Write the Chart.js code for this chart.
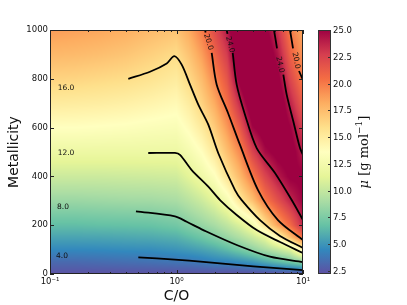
<!DOCTYPE html>
<html><head><meta charset="utf-8">
<script src="https://cdn.jsdelivr.net/npm/chart.js@4.4.0/dist/chart.umd.min.js"></script>
<style>html,body{margin:0;padding:0;background:#fff;}canvas{display:block}</style>
</head><body>
<canvas id="c" width="407" height="305"></canvas>
<script>
// ---------- DATA ----------
// grid of mean molecular weight mu (read from the colours), columns = log10(C/O), rows = metallicity
const gridLogCO = [-1.0,-0.8,-0.6,-0.4,-0.2,0.0,0.1,0.2,0.3,0.4,0.5,0.6,0.7,0.8,0.9,1.0];
const gridZ = [0,50,100,150,200,300,400,500,600,700,800,900,1000];
const muZ0    = [2.3,2.3,2.3,2.3,2.3,2.3,2.3,2.3,2.3,2.2,2.2,2.2,2.2,2.2,2.2,2.2];
const muZ50   = [3.3,3.3,3.4,3.5,3.6,3.75,3.8,4.0,4.3,4.4,4.7,5.1,5.8,6.5,7.2,8.1];
const muZ100  = [4.5,4.5,4.55,4.65,4.7,4.95,5.2,5.5,5.9,6.5,7.25,8.15,9.05,9.95,11.1,14.7];
const muZ150  = [5.55,5.55,5.6,5.7,5.8,6.05,6.5,7.0,7.65,8.4,9.2,10.2,11.4,14.1,17.4,20.5];
const muZ200  = [6.6,6.6,6.7,6.75,6.85,7.2,7.8,8.35,8.95,9.8,10.9,12.45,15.6,18.5,20.6,23.6];
const muZ300  = [8.5,8.5,8.6,8.7,8.75,9.0,9.6,10.3,11.3,12.7,15.3,17.2,20.0,21.8,23.6,25.0];
const muZ400  = [10.3,10.3,10.3,10.35,10.4,10.5,11.3,12.2,13.35,15.55,17.6,20.0,22.35,24.1,25.2,25.3];
const muZ500  = [12.0,12.0,12.0,12.0,12.0,12.0,12.7,13.65,15.25,17.35,19.4,22.4,24.6,25.5,25.8,23.9];
const muZ600  = [13.6,13.6,13.5,13.4,13.2,13.05,13.9,15.1,16.8,18.9,21.4,24.8,26.0,26.5,25.0,22.6];
const muZ700  = [15.1,15.0,14.9,14.7,14.4,14.05,15.0,16.5,18.2,20.4,23.4,26.5,27.0,26.5,23.7,21.2];
const muZ800  = [16.5,16.4,16.2,16.0,15.6,15.05,16.2,17.55,19.5,21.6,25.5,28.0,27.0,25.5,22.3,19.95];
const muZ900  = [17.7,17.6,17.4,17.1,16.6,16.05,17.2,18.7,20.8,22.8,27.0,28.0,26.5,24.3,21.0,19.0];
const muZ1000 = [18.8,18.6,18.4,18.1,17.6,17.2,18.3,19.9,22.0,24.05,28.0,27.0,25.5,23.2,19.9,18.3];
const muGrid = [muZ0,muZ50,muZ100,muZ150,muZ200,muZ300,muZ400,muZ500,muZ600,muZ700,muZ800,muZ900,muZ1000];

// contour lines (C/O, metallicity); null = gap for inline label
const c16CO = [0.416,0.617,0.837,0.961,1.099,1.279,1.487,1.784,2.140,2.901,3.277,4.573,6.58,10];
const c16Z  = [800,829,863,893,858,776,694,612,495,344,303,221,156,107];
const c12CO = [0.598,0.973,1.066,1.319,1.784,2.208,2.991,4.305,6.58,10];
const c12Z  = [496,496,488,426,358,303,242,180,131,86];
const c8CO  = [0.478,0.973,1.204,1.629,2.991,5.484,10];
const c8Z   = [257,236,214,180,119,71,49];
const c4CO  = [0.499,0.973,1.629,2.991,5.484,10];
const c4Z   = [68,59,50,37,26,16];
const c20aCO = [1.680,1.700,1.75,1.898,2.079,2.554,3.177,4.41,6.34,10];
const c20aZ  = [1000,990,null,906,776,660,529,344,221,139];
const c24aCO = [2.494,2.53,2.6,2.782,2.991,3.479,4.305,6.006,8.14,10];
const c24aZ  = [1000,984,null,906,776,653,516,414,303,221];
const c24bCO = [5.90,6.23,6.6,6.99,7.43,8.38,9.47,10];
const c24bZ  = [1000,925,null,817,735,626,516,488];
const c20bCO = [7.89,8.34,8.8,9.30,10];
const c20bZ  = [1000,925,null,832,795];

// inline contour labels
const labelText = ['16.0','12.0','8.0','4.0','20.0','24.0','24.0','20.0'];
const labelCO   = [0.1338,0.1338,0.1267,0.1245,1.784,2.648,6.58,8.81];
const labelZ    = [762,496,273,75,951,940,858,875];
const labelAngleDeg = [0,0,0,0,74,75,78,79];

// axis ticks
const xMajorTicks = [0.1,1,10];
const xTickLabels = ['10\u207B\u00B9','10\u2070','10\u00B9'];
const cbTicks = [2.5,5.0,7.5,10.0,12.5,15.0,17.5,20.0,22.5,25.0];
const muMin = 2.2, muMax = 25;

// ---------- helpers ----------
const SPECTRAL = [[158,1,66],[213,62,79],[244,109,67],[253,174,97],[254,224,139],[255,255,191],[230,245,152],[171,221,164],[102,194,165],[50,136,189],[94,79,162]];
function spectralR(t){
  t = Math.min(1, Math.max(0, t));
  const s = (1 - t) * 10;
  const i = Math.min(9, Math.floor(s));
  const f = s - i, a = SPECTRAL[i], b = SPECTRAL[i+1];
  return [a[0]+(b[0]-a[0])*f, a[1]+(b[1]-a[1])*f, a[2]+(b[2]-a[2])*f];
}
function locate(arr, v){
  if (v <= arr[0]) return [0, 0];
  const n = arr.length;
  if (v >= arr[n-1]) return [n-2, 1];
  for (let i = 0; i < n-1; i++) if (v <= arr[i+1]) return [i, (v-arr[i])/(arr[i+1]-arr[i])];
  return [n-2, 1];
}
function sampleMu(lx, z){
  const [i, fx] = locate(gridLogCO, lx);
  const [j, fy] = locate(gridZ, z);
  const a = muGrid[j][i], b = muGrid[j][i+1], c = muGrid[j+1][i], d = muGrid[j+1][i+1];
  return (a*(1-fx)+b*fx)*(1-fy) + (c*(1-fx)+d*fx)*fy;
}
function pts(xs, ys){ return xs.map((x, k) => ({x: x, y: ys[k]})); }
function lineDs(xs, ys){
  return {data: pts(xs, ys), showLine: true, borderColor: '#000', borderWidth: 1.8,
          pointRadius: 0, tension: 0.3, spanGaps: false, xAxisID: 'x', yAxisID: 'y'};
}

const FONT = 'DejaVu Sans';
const heatPlugin = {
  id: 'heat',
  beforeDatasetsDraw(chart){
    const {ctx, chartArea: a, scales: {x, y}} = chart;
    const w = Math.round(a.right - a.left), h = Math.round(a.bottom - a.top);
    const off = document.createElement('canvas'); off.width = w; off.height = h;
    const octx = off.getContext('2d');
    const img = octx.createImageData(w, h);
    const lxs = [];
    for (let i = 0; i < w; i++) lxs.push(Math.log10(x.getValueForPixel(a.left + i + 0.5)));
    for (let j = 0; j < h; j++){
      const z = y.getValueForPixel(a.top + j + 0.5);
      for (let i = 0; i < w; i++){
        const v = sampleMu(lxs[i], z);
        const c = spectralR((v - muMin)/(muMax - muMin));
        const k = (j*w + i)*4;
        img.data[k] = c[0]; img.data[k+1] = c[1]; img.data[k+2] = c[2]; img.data[k+3] = 255;
      }
    }
    octx.putImageData(img, 0, 0);
    ctx.drawImage(off, a.left, a.top);
  },
  afterDatasetsDraw(chart){
    const {ctx, chartArea: a, scales: {x, y, cb}} = chart;
    ctx.save();
    // contour labels
    ctx.fillStyle = '#111';
    ctx.font = '7.5px "' + FONT + '"';
    ctx.textAlign = 'center'; ctx.textBaseline = 'middle';
    labelText.forEach((t, k) => {
      ctx.save();
      ctx.translate(x.getPixelForValue(labelCO[k]), y.getPixelForValue(labelZ[k]));
      ctx.rotate(labelAngleDeg[k]*Math.PI/180);
      ctx.fillText(t, 0, 0);
      ctx.restore();
    });
    // spines
    ctx.strokeStyle = '#222'; ctx.lineWidth = 1;
    ctx.strokeRect(Math.round(a.left)+0.5, Math.round(a.top)+0.5, Math.round(a.right-a.left)-1, Math.round(a.bottom-a.top)-1);
    // inward ticks
    ctx.beginPath();
    const xt = [];
    [0.1, 1].forEach(d => { for (let m = 1; m <= 9; m++) xt.push(d*m); });
    xt.push(10);
    xt.forEach(v => {
      const lg = Math.log10(v), major = Math.abs(lg - Math.round(lg)) < 1e-6;
      const L = major ? 4 : 2;
      const px = Math.round(x.getPixelForValue(v)) + 0.5;
      ctx.moveTo(px, a.bottom); ctx.lineTo(px, a.bottom - L);
      ctx.moveTo(px, a.top); ctx.lineTo(px, a.top + L);
    });
    for (let v = 0; v <= 1000; v += 200){
      const py = Math.round(y.getPixelForValue(v)) + 0.5;
      ctx.moveTo(a.left, py); ctx.lineTo(a.left + 4, py);
      ctx.moveTo(a.right, py); ctx.lineTo(a.right - 4, py);
    }
    ctx.stroke();
    // colorbar
    const cx0 = Math.round(a.right) + 15, cw = 13;
    const yTop = cb.getPixelForValue(muMax), yBot = cb.getPixelForValue(muMin);
    const g = ctx.createLinearGradient(0, yBot, 0, yTop);
    for (let k = 0; k <= 20; k++){
      const c = spectralR(k/20);
      g.addColorStop(k/20, 'rgb(' + c.map(Math.round).join(',') + ')');
    }
    ctx.fillStyle = g;
    ctx.fillRect(cx0, yTop, cw, yBot - yTop);
    ctx.strokeStyle = '#333';
    ctx.strokeRect(cx0 + 0.5, Math.round(yTop) + 0.5, cw - 1, Math.round(yBot - yTop) - 1);
    ctx.beginPath();
    ctx.fillStyle = '#111';
    ctx.font = '8.5px "' + FONT + '"';
    ctx.textAlign = 'left'; ctx.textBaseline = 'middle';
    cbTicks.forEach(v => {
      const py = Math.round(cb.getPixelForValue(v)) + 0.5;
      ctx.moveTo(cx0 + cw, py); ctx.lineTo(cx0 + cw - 3, py);
      ctx.fillText(v.toFixed(1), cx0 + cw + 2, py);
    });
    ctx.stroke();
    // colorbar label (rotated)
    const parts = [
      {t: '\u03BC', f: 'italic 13px "DejaVu Serif"', dy: 0},
      {t: ' [g mol', f: '13px "DejaVu Serif"', dy: 0},
      {t: '\u22121', f: '9px "DejaVu Serif"', dy: -5},
      {t: ']', f: '13px "DejaVu Serif"', dy: 0}
    ];
    let total = 0;
    parts.forEach(p => { ctx.font = p.f; p.w = ctx.measureText(p.t).width; total += p.w; });
    ctx.save();
    ctx.translate(cx0 + cw + 34, (yTop + yBot)/2);
    ctx.rotate(-Math.PI/2);
    ctx.textAlign = 'left'; ctx.textBaseline = 'middle';
    let px = -total/2;
    parts.forEach(p => { ctx.font = p.f; ctx.fillText(p.t, px, p.dy); px += p.w; });
    ctx.restore();
    ctx.restore();
  }
};

new Chart(document.getElementById('c'), {
  type: 'scatter',
  data: {datasets: [
    lineDs(c16CO, c16Z), lineDs(c12CO, c12Z), lineDs(c8CO, c8Z), lineDs(c4CO, c4Z),
    lineDs(c20aCO, c20aZ), lineDs(c24aCO, c24aZ), lineDs(c24bCO, c24bZ), lineDs(c20bCO, c20bZ)
  ]},
  options: {
    responsive: false, animation: false, events: [],
    layout: {padding: {top: 30, right: 104, left: 0, bottom: 0}},
    plugins: {legend: {display: false}, tooltip: {enabled: false}},
    scales: {
      x: {
        type: 'logarithmic', min: 0.1, max: 10, position: 'bottom',
        grid: {display: false, drawTicks: false}, border: {display: false},
        afterBuildTicks: s => { s.ticks = xMajorTicks.map(v => ({value: v, major: true})); },
        afterFit: s => { s.height = 31; },
        ticks: {autoSkip: false, maxRotation: 0, padding: 3, color: '#111',
          font: {family: FONT, size: 8.5},
          callback: (v) => {
            const k = xMajorTicks.findIndex(t => Math.abs(Math.log10(t) - Math.log10(v)) < 1e-6);
            return k >= 0 ? xTickLabels[k] : '';
          }},
        title: {display: true, text: 'C/O', color: '#111', font: {family: FONT, size: 14}, padding: {top: 0, bottom: 0}}
      },
      y: {
        type: 'linear', min: 0, max: 1000, position: 'left',
        grid: {display: false, drawTicks: false}, border: {display: false},
        afterFit: s => { s.width = 50; },
        ticks: {stepSize: 200, padding: 2, color: '#111', font: {family: FONT, size: 8.5},
          callback: (v) => String(v)},
        title: {display: true, text: 'Metallicity', color: '#111', font: {family: FONT, size: 14}, padding: {top: 6, bottom: 0}}
      },
      cb: {type: 'linear', position: 'right', display: false, min: muMin, max: muMax}
    }
  },
  plugins: [heatPlugin]
});
</script>
</body></html>
